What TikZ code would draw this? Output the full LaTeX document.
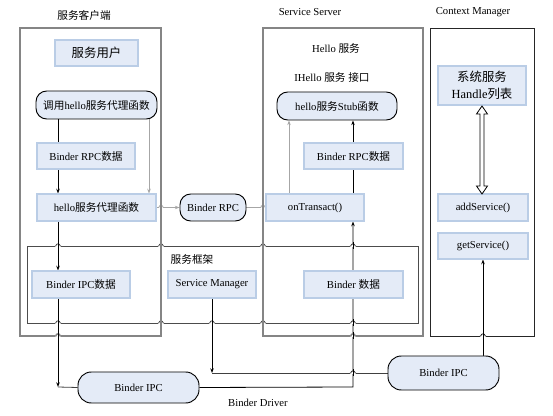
\documentclass[tikz,border=0pt]{standalone}
\usepackage{fontspec}
\setmainfont{Liberation Serif}
\newfontfamily\cjk{Noto Sans CJK SC}
\usetikzlibrary{arrows.meta}
\pgfdeclarelayer{bg}
\pgfsetlayers{bg,main}
\definecolor{boxfill}{HTML}{E4EBF7}
\definecolor{boxline}{HTML}{BACDE6}
\definecolor{contgray}{HTML}{858585}
\definecolor{arrgray}{HTML}{A6A6A6}
\newcommand{\zh}[1]{{\cjk #1}}
\newcommand{\hopxy}[4]{%
 \fill[white] (#1-3,#2-1.3) rectangle (#1+3,#2+1.3);
 \draw[#3] (#1-3.2,#2) -- (#1-2.2,#2) .. controls (#1-2.2,#2-2.8) and (#1+2.2,#2-2.8) .. (#1+2.2,#2) -- (#1+3.2,#2);
 \draw[#4] (#1,#2-3.5) -- (#1,#2+3.5);
}
\begin{document}
\begin{tikzpicture}[x=0.75pt,y=-0.75pt,
 sz/.style 2 args={minimum width=#1*0.75pt, minimum height=#2*0.75pt},
 txt/.style={font=\fontsize{8}{9.6}\selectfont, inner sep=0pt},
 lbox/.style={draw=boxline, fill=boxfill, line width=0.8pt, inner sep=0pt, align=center, font=\fontsize{8}{9.6}\selectfont},
 rbox/.style={draw=black, fill=boxfill, line width=0.7pt, rounded corners=8pt, inner sep=0pt, font=\fontsize{8}{9.6}\selectfont},
 cont/.style={draw=contgray, line width=1.1pt},
 framebox/.style={draw=black!70, line width=0.6pt},
 ctxbox/.style={draw=black!85, line width=0.6pt},
 vblack/.style={draw=black, line width=0.6pt},
 vgray/.style={draw=arrgray, line width=0.6pt},
 hdark/.style={draw=black!75, line width=0.6pt},
 conn/.style={draw=black, line width=0.6pt, -{Stealth[length=3.5pt,width=2.6pt]}},
 gconn/.style={draw=arrgray, line width=0.6pt, -{Stealth[length=3.5pt,width=2.6pt]}},
]
\useasboundingbox (0,0) rectangle (553,416);

% titles
\node[txt] (t1) at (84,15) {\zh{服务客户端}};
\node[txt] (t2) at (310,12) {Service Server};
\node[txt] (t3) at (473,12) {Context Manager};

% nodes
\node[lbox, sz={83}{26}, font=\fontsize{9.3}{11}\selectfont] (user) at (96.5,53) {\zh{服务用户}};
\node[rbox, sz={121}{28}] (call) at (96.5,105) {\zh{调用}hello\zh{服务代理函数}};
\node[lbox, sz={98}{26}] (rpc1) at (86,156) {Binder RPC\zh{数据}};
\node[lbox, sz={119}{27}] (proxy) at (96.5,207.5) {hello\zh{服务代理函数}};
\node[rbox, sz={66}{27}] (brpc) at (213,207.5) {Binder RPC};

\node[txt] (hello) at (336,48) {Hello \zh{服务}};
\node[txt] (ihello) at (332,77) {IHello \zh{服务} \zh{接口}};
\node[rbox, sz={120}{28}] (stub) at (337,106) {hello\zh{服务}Stub\zh{函数}};
\node[lbox, sz={99}{26}] (rpc2) at (353.5,156) {Binder RPC\zh{数据}};
\node[lbox, sz={98}{27}] (ontr) at (315,207.5) {onTransact()};

\node[lbox, sz={88}{39}, font=\fontsize{9.3}{12.5}\selectfont] (handle) at (482,85.5) {\zh{系统服务}\\Handle\zh{列表}};
\node[lbox, sz={90}{27}] (add) at (483,207.5) {addService()};
\node[lbox, sz={90}{26}] (get) at (483,246) {getService()};

\node[txt] (fwlabel) at (192,259) {\zh{服务框架}};
\node[lbox, sz={98}{27}] (ipcdata) at (81,284.5) {Binder IPC\zh{数据}};
\node[lbox, sz={88}{27}] (sm) at (212,284.5) {Service Manager};
\node[lbox, sz={99}{27}] (bdata) at (353.5,284.5) {Binder \zh{数据}};

\node[rbox, rounded corners=10pt, sz={121}{31}] (bipc1) at (138.5,387.5) {Binder IPC};
\node[rbox, rounded corners=10pt, sz={111}{34}] (bipc2) at (443.5,373) {Binder IPC};
\node[txt] (driver) at (258,403) {Binder Driver};

% hollow double arrow
\draw[fill=white, line width=0.6pt] (482,106) -- (487.5,114) -- (484,114) -- (484,186) -- (487.5,186) -- (482,194)
  -- (476.5,186) -- (480,186) -- (480,114) -- (476.5,114) -- cycle;

\coordinate (cL) at (58,387);
\coordinate (cM) at (212,373);
\coordinate (cR) at (353,387);

\begin{pgfonlayer}{bg}
% containers
\draw[cont] (20,28) rectangle (161,336);
\draw[cont] (263,28) rectangle (423,336);
\draw[ctxbox] (430,28) rectangle (534,336);
\draw[framebox] (27,246) rectangle (418,323);

% connectors
\draw[conn] (call.south -| cL) -- (proxy.north -| cL);
\draw[gconn] (call.south -| 149,0) -- (proxy.north -| 149,0);
\draw[gconn] (proxy.east) -- (brpc.west);
\draw[gconn] (brpc.east) -- (ontr.west);
\draw[conn] (proxy.south -| cL) -- (ipcdata.north -| cL);
\draw[conn] (ipcdata.south -| cL) -- (cL);
\draw[hdark] (cL) -- (bipc1.west);
\draw[conn] (sm.south) -- (cM);
\draw[hdark] (cM) -- (bipc2.west);
\draw[conn] (bipc1.east) -- (cR) -- (ontr.south -| cR);
\draw[conn] (ontr.north -| cR) -- (stub.south -| cR);
\draw[gconn] (ontr.north -| 289,0) -- (stub.south -| 289,0);
\draw[conn] (bipc2.north -| get.south) -- (get.south);

% line hops
\hopxy{58}{246}{framebox}{vblack}
\hopxy{58}{323}{framebox}{vblack}
\hopxy{58}{336}{cont}{vblack}
\hopxy{161}{207.5}{vgray}{cont}
\hopxy{161}{246}{framebox}{cont}
\hopxy{161}{323}{framebox}{cont}
\hopxy{263}{207.5}{vgray}{cont}
\hopxy{263}{246}{framebox}{cont}
\hopxy{263}{323}{framebox}{cont}
\hopxy{212}{323}{framebox}{vblack}
\hopxy{353}{246}{framebox}{vblack}
\hopxy{353}{323}{framebox}{vblack}
\hopxy{353}{336}{cont}{vblack}
\hopxy{353}{373}{hdark}{vblack}
\hopxy{483}{336}{ctxbox}{vblack}
\end{pgfonlayer}
\end{tikzpicture}
\end{document}
